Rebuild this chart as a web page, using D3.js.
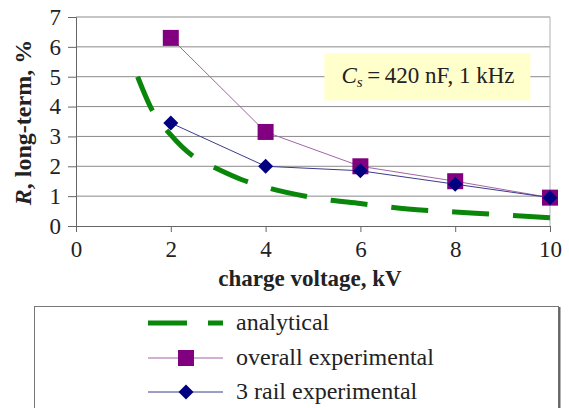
<!DOCTYPE html>
<html lang="en">
<head>
<meta charset="UTF-8">
<title>R long-term vs charge voltage</title>
<style>
  body { margin: 0; background: #fff; }
  text { font-family: "Liberation Serif", "Times New Roman", serif; fill: #222; }
</style>
</head>
<body>
<div id="chart"></div>
<script src="https://d3js.org/d3.v7.min.js"></script>
<script>
  // charge voltage, kV
  const xTicks = [0, 2, 4, 6, 8, 10];
  const yTicks = [0, 1, 2, 3, 4, 5, 6, 7];

  // analytical curve
  const analyticalV = [1.3, 1.6, 2, 2.5, 3, 3.5, 4, 5, 6, 7, 8, 9, 10];
  const analyticalR = [5.0, 3.9, 3.05, 2.3, 1.9, 1.55, 1.3, 0.95, 0.75, 0.57, 0.47, 0.37, 0.28];

  // measured points
  const expV = [2, 4, 6, 8, 10];
  const overallR = [6.3, 3.15, 2.0, 1.5, 0.95];
  const railR = [3.45, 2.0, 1.85, 1.4, 0.95];

  const legendLabels = ["analytical", "overall experimental", "3 rail experimental"];

  const W = 569, H = 408;
  const margin = { top: 17, right: 19, bottom: 182, left: 76 };
  const width = W - margin.left - margin.right;
  const height = H - margin.top - margin.bottom;

  const svg = d3.select("#chart").append("svg")
    .attr("width", W)
    .attr("height", H);

  const g = svg.append("g")
    .attr("transform", `translate(${margin.left},${margin.top})`);

  const x = d3.scaleLinear().domain([0, 10]).range([0, width]);
  const y = d3.scaleLinear().domain([0, 7]).range([height, 0]);

  // gridlines
  g.selectAll(".grid")
    .data(yTicks.slice(1))
    .enter().append("line")
    .attr("x1", 0).attr("x2", width)
    .attr("y1", d => y(d)).attr("y2", d => y(d))
    .attr("stroke", "#8a8a8a")
    .attr("stroke-width", 1);

  // right border of plot
  g.append("line")
    .attr("x1", width).attr("x2", width)
    .attr("y1", 0).attr("y2", height)
    .attr("stroke", "#b0b0b0");

  // axes
  const yAxis = g.append("g")
    .call(d3.axisLeft(y).tickValues(yTicks).tickSize(8).tickPadding(7).tickFormat(d3.format("d")));
  const xAxis = g.append("g")
    .attr("transform", `translate(0,${height})`)
    .call(d3.axisBottom(x).tickValues(xTicks).tickSize(6).tickPadding(9).tickFormat(d3.format("d")));

  [xAxis, yAxis].forEach(a => {
    a.select(".domain").attr("stroke", "#666");
    a.selectAll(".tick line").attr("stroke", "#666");
    a.selectAll("text")
      .style("font-family", "'Liberation Serif', serif")
      .style("font-size", "23px")
      .attr("fill", "#222");
  });

  // annotation box
  const note = g.append("g").attr("transform", `translate(${x(5.24)},${y(5.78)})`);
  note.append("rect")
    .attr("width", 206).attr("height", 47)
    .attr("fill", "#ffffcc");
  const nt = note.append("text")
    .attr("x", 17).attr("y", 30)
    .style("font-size", "23px");
  nt.append("tspan").attr("font-style", "italic").text("C");
  nt.append("tspan").attr("font-style", "italic").attr("font-size", "15px").attr("dy", 4).text("s");
  nt.append("tspan").attr("dy", -4).text("\u2009=\u2009420 nF, 1 kHz");

  // analytical curve
  const analytical = analyticalV.map((v, i) => [v, analyticalR[i]]);
  g.append("path")
    .datum(analytical)
    .attr("fill", "none")
    .attr("stroke", "#0a870a")
    .attr("stroke-width", 5)
    .attr("stroke-dasharray", "37,24")
    .attr("d", d3.line().x(d => x(d[0])).y(d => y(d[1])).curve(d3.curveMonotoneX));

  const overall = expV.map((v, i) => [v, overallR[i]]);
  const rail = expV.map((v, i) => [v, railR[i]]);
  const line = d3.line().x(d => x(d[0])).y(d => y(d[1]));

  g.append("path").datum(overall)
    .attr("fill", "none").attr("stroke", "#a464a4").attr("stroke-width", 1)
    .attr("d", line);
  g.append("path").datum(rail)
    .attr("fill", "none").attr("stroke", "#3a3a8e").attr("stroke-width", 1)
    .attr("d", line);

  const sq = 16, dm = 15;
  g.selectAll(".sq").data(overall).enter().append("rect")
    .attr("x", d => x(d[0]) - sq / 2).attr("y", d => y(d[1]) - sq / 2)
    .attr("width", sq).attr("height", sq)
    .attr("fill", "#800080");
  g.selectAll(".dm").data(rail).enter().append("path")
    .attr("transform", d => `translate(${x(d[0])},${y(d[1])})`)
    .attr("d", `M0,${-dm / 2}L${dm / 2},0L0,${dm / 2}L${-dm / 2},0Z`)
    .attr("fill", "#000080");

  // axis titles
  g.append("text")
    .attr("x", width / 2 - 3)
    .attr("y", height + 60)
    .attr("text-anchor", "middle")
    .style("font-size", "23px")
    .attr("font-weight", "bold")
    .text("charge voltage, kV");

  const yt = g.append("text")
    .attr("transform", `translate(${-45},${height / 2 + 1}) rotate(-90)`)
    .attr("text-anchor", "middle")
    .style("font-size", "24px")
    .attr("font-weight", "bold");
  yt.append("tspan").attr("font-style", "italic").text("R");
  yt.append("tspan").text(", long-term, %");

  // legend
  const lg = svg.append("g").attr("transform", "translate(34,306)");
  lg.append("rect")
    .attr("x", 0.5).attr("y", 0.5)
    .attr("width", 524).attr("height", 120)
    .attr("fill", "#fff")
    .attr("stroke", "#777");
  lg.append("line")
    .attr("x1", 525.5).attr("x2", 525.5).attr("y1", 1).attr("y2", 120)
    .attr("stroke", "#666").attr("stroke-width", 2);

  const rows = [17, 52, 86];
  lg.append("line")
    .attr("x1", 114).attr("x2", 189).attr("y1", rows[0]).attr("y2", rows[0])
    .attr("stroke", "#0a870a").attr("stroke-width", 5)
    .attr("stroke-dasharray", "39,21");
  lg.append("line")
    .attr("x1", 114).attr("x2", 189).attr("y1", rows[1]).attr("y2", rows[1])
    .attr("stroke", "#a464a4");
  lg.append("rect")
    .attr("x", 152 - sq / 2).attr("y", rows[1] - sq / 2)
    .attr("width", sq).attr("height", sq).attr("fill", "#800080");
  lg.append("line")
    .attr("x1", 114).attr("x2", 189).attr("y1", rows[2]).attr("y2", rows[2])
    .attr("stroke", "#3a3a8e");
  lg.append("path")
    .attr("transform", `translate(152,${rows[2]})`)
    .attr("d", `M0,${-dm / 2}L${dm / 2},0L0,${dm / 2}L${-dm / 2},0Z`)
    .attr("fill", "#000080");

  lg.selectAll(".lt").data(legendLabels).enter().append("text")
    .attr("x", 202)
    .attr("y", (d, i) => rows[i] + 7)
    .style("font-size", "24px")
    .text(d => d);
</script>
</body>
</html>
